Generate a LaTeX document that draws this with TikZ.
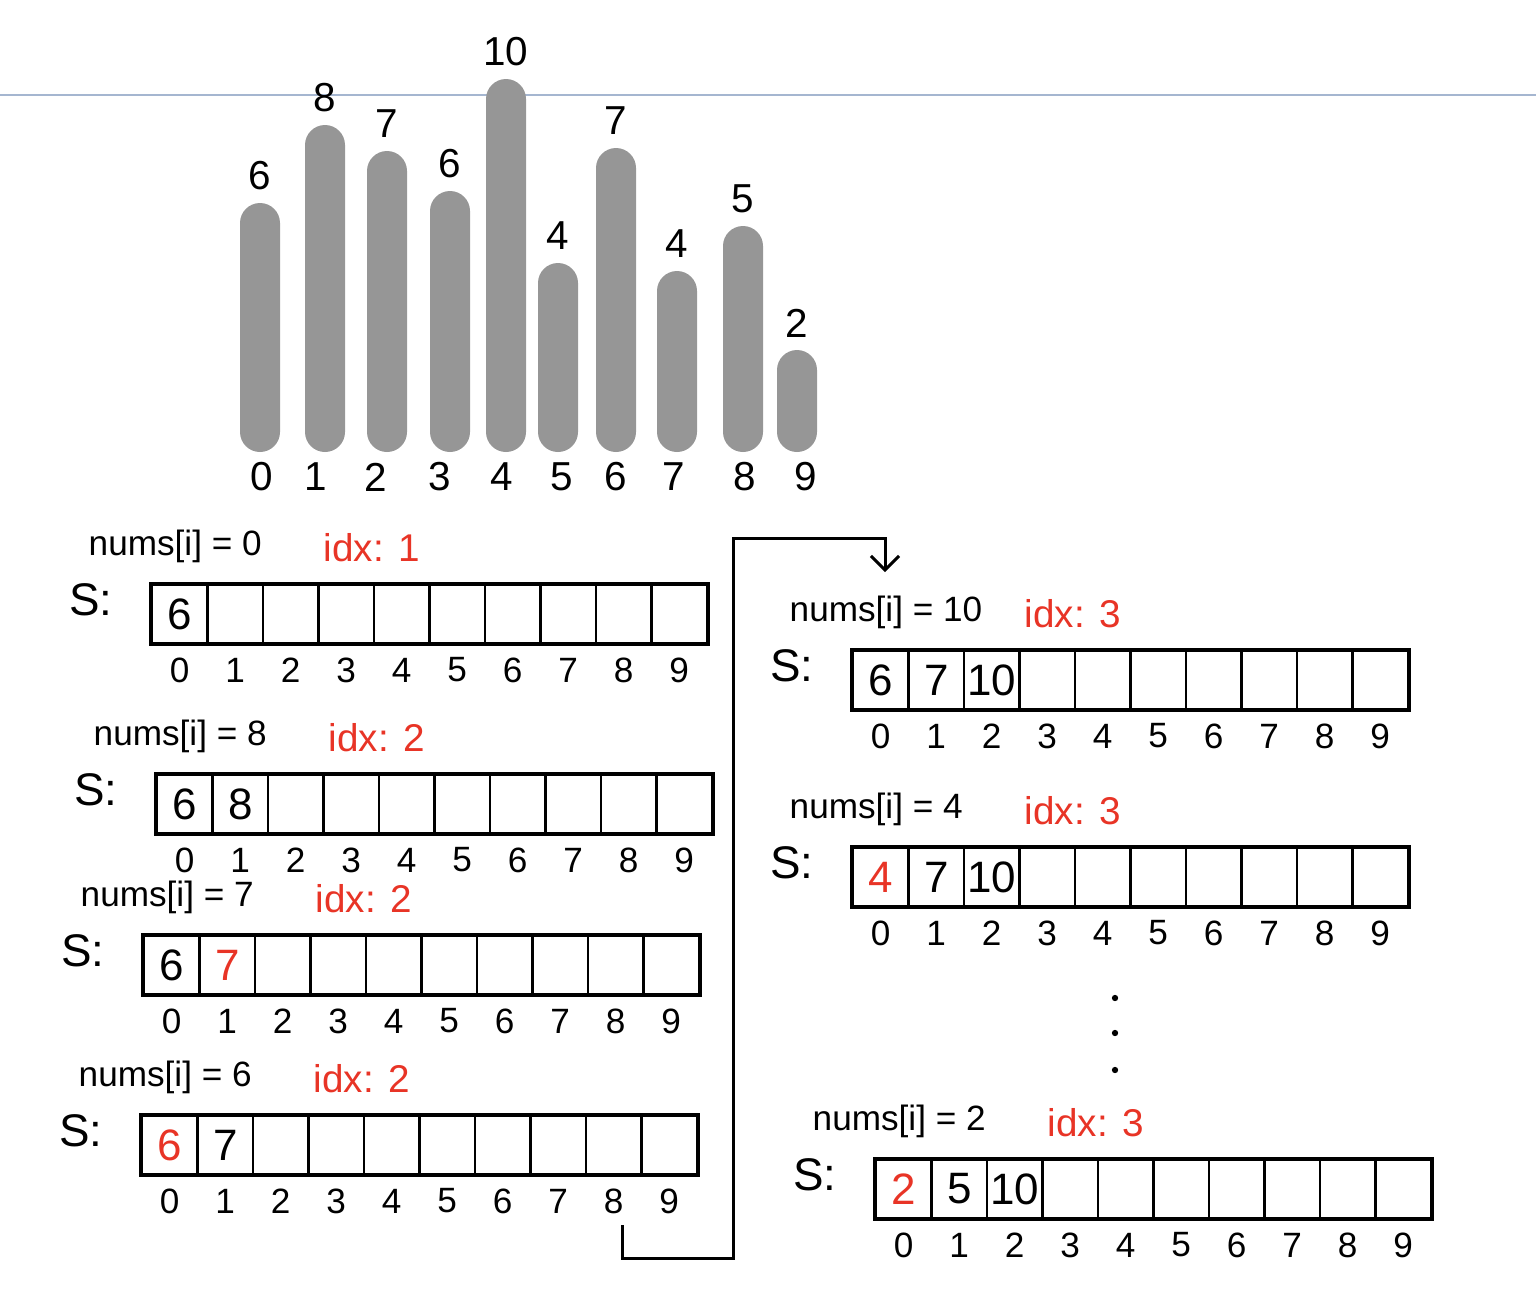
\documentclass[tikz,border=0pt]{standalone}
\usepackage{fontspec}
\setmainfont{Liberation Sans}
\usetikzlibrary{positioning, arrows.meta}
\definecolor{penred}{RGB}{232,52,38}
\definecolor{bargray}{RGB}{150,150,150}
\definecolor{ruleblue}{RGB}{165,182,208}

\begin{document}
\begin{tikzpicture}[
    x=0.01cm, y=-0.01cm,
    bar/.style     = {fill=bargray, rounded corners=0.2cm},
    barlbl/.style  = {font=\fontsize{11.5}{14}\selectfont, inner sep=0pt},
    cell/.style    = {rectangle, draw=black, line width=0.6pt,
                      minimum width=0.555cm, minimum height=0.58cm, inner sep=0pt},
    frame/.style   = {draw=black, line width=1.2pt},
    val/.style     = {font=\fontsize{12.5}{15}\selectfont, inner sep=0pt},
    hot/.style     = {text=penred},
    idxlbl/.style  = {font=\fontsize{10}{12}\selectfont, inner sep=0pt},
    numlbl/.style  = {font=\fontsize{10}{12}\selectfont, anchor=west, inner sep=0pt},
    ptrlbl/.style  = {font=\fontsize{11}{13}\selectfont, text=penred,
                      anchor=west, inner sep=0pt},
    slbl/.style    = {font=\fontsize{13}{15}\selectfont, inner sep=0pt},
    conn/.style    = {line width=0.85pt, -{Straight Barb[length=4pt, width=8pt]}},
    dot/.style     = {circle, fill=black, minimum size=1.8pt, inner sep=0pt},
]
\useasboundingbox (0,0) rectangle (1536,1293);

%% ============================================================
%% PAGE RULE
%% ============================================================
\coordinate (ruleL) at (0,95);
\coordinate (ruleR) at (1536,95);
\draw[ruleblue, line width=0.6pt] (ruleL) -- (ruleR);

%% ============================================================
%% BAR CHART (heights of nums)
%% ============================================================
\foreach \i/\x/\t/\v/\lx in {0/260/203/6/262, 1/325/125/8/316, 2/387/151/7/376,
                             3/450/191/6/440, 4/506/79/10/502, 5/558/263/4/562,
                             6/616/148/7/616, 7/677/271/4/674, 8/743/226/5/745,
                             9/797/350/2/806} {
    \fill[bar] (\x-20,452) rectangle (\x+20,\t);
    \node[barlbl] (top\i) at (\x,\t-27) {\v};
    \node[barlbl] (pos\i) at (\lx,477) {\i};
}

%% ============================================================
%% STACK SNAPSHOTS
%% ============================================================
\foreach \n/\x/\y/\nv/\kv in {A/152/585/0/1, B/157/775/8/2, C/144/936/7/2,
                              D/142/1116/6/2, E/853/651/10/3, F/853/848/4/3,
                              G/876/1160/2/3} {
    \foreach \i in {0,...,9}
        \node[cell] (\n\i) at (\x+27.75+55.5*\i, \y+29) {};
    \foreach \i in {0,...,9}
        \node[idxlbl] (\n idx\i) at (\x+27.75+55.5*\i, \y+85) {\i};
    \draw[frame] (\n0.north west) rectangle (\n9.south east);
    \node[slbl]   (\n s)   at (\x-61, \y+15) {S:};
    \node[numlbl] (\n num) at (\x-64, \y-39) {nums[i] = \nv};
    \node[ptrlbl] (\n ptr) at (\x+171, \y-37) {idx: \kv};
}

%% stack contents
\node[val]      (A0v) at (A0) {6};
\node[val]      (B0v) at (B0) {6};
\node[val]      (B1v) at (B1) {8};
\node[val]      (C0v) at (C0) {6};
\node[val, hot] (C1v) at (C1) {7};
\node[val, hot] (D0v) at (D0) {6};
\node[val]      (D1v) at (D1) {7};
\node[val]      (E0v) at (E0) {6};
\node[val]      (E1v) at (E1) {7};
\node[val]      (E2v) at (E2) {10};
\node[val, hot] (F0v) at (F0) {4};
\node[val]      (F1v) at (F1) {7};
\node[val]      (F2v) at (F2) {10};
\node[val, hot] (G0v) at (G0) {2};
\node[val]      (G1v) at (G1) {5};
\node[val]      (G2v) at (G2) {10};

%% ellipsis between snapshots
\node[dot] (dot1) at (1115,998) {};
\node[dot] (dot2) at (1115,1033) {};
\node[dot] (dot3) at (1115,1070) {};

%% ============================================================
%% CONTINUATION ARROW (left column -> right column)
%% ============================================================
\coordinate (fromD)    at (622,1225);
\coordinate (turnLow)  at (733,1258);
\coordinate (turnHigh) at (885,538);
\coordinate (toE)      at (885,572);
\draw[conn] (fromD) |- (turnLow) |- (turnHigh) -- (toE);

\end{tikzpicture}
\end{document}
